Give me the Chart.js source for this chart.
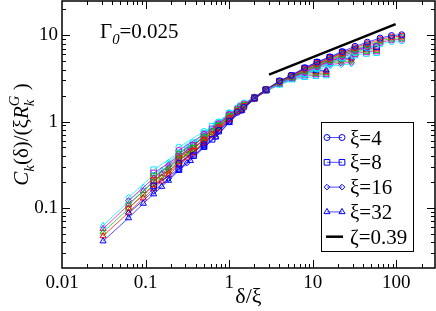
<!DOCTYPE html>
<html>
<head>
<meta charset="utf-8">
<script src="https://cdn.jsdelivr.net/npm/chart.js@4.4.0/dist/chart.umd.min.js"></script>
<style>
  html, body { margin: 0; padding: 0; background: #fff; }
  canvas { display: block; }
</style>
</head>
<body>
<canvas id="collapseChart" width="436" height="311"></canvas>
<script>
// delta/xi positions for each correlation length
const x4  = [0.25, 0.5, 0.75, 1, 1.25, 1.5, 2, 2.75, 4, 5.5, 8, 11.25, 16, 22.5, 32, 45, 64, 87.5, 116];
const x8  = [0.125, 0.25, 0.375, 0.5, 0.625, 0.75, 1, 1.375, 2, 2.75, 4, 5.625, 8, 11.25, 16, 22.6, 32, 43.75, 58];
const x16 = [0.0625, 0.125, 0.188, 0.25, 0.3125, 0.375, 0.5, 0.69, 1, 1.375, 2, 2.81, 4, 5.625, 8, 11.3, 16, 21.9, 29];
const x32 = [0.031, 0.0625, 0.094, 0.125, 0.156, 0.188, 0.25, 0.344, 0.5, 0.69, 1, 1.41, 2, 2.81, 4, 5.66, 8, 10.9, 14.5];

// C_k / (xi R_k^G), one array per k (colour) and xi
const blue4  = [0.328, 0.541, 0.792, 1.012, 1.278, 1.457, 1.89, 2.35, 2.96, 3.43, 4.21, 4.91, 5.62, 6.48, 7.45, 8.32, 9.29, 9.94, 10.15];
const red4   = [0.378, 0.607, 0.855, 1.093, 1.319, 1.504, 1.89, 2.35, 2.91, 3.37, 4.06, 4.73, 5.41, 6.24, 7.18, 8.01, 8.94, 9.57, 9.78];
const green4 = [0.42, 0.66, 0.90, 1.15, 1.36, 1.55, 1.9, 2.35, 2.85, 3.3, 3.9, 4.55, 5.2, 6.0, 6.9, 7.7, 8.6, 9.2, 9.4];
const mag4   = [0.462, 0.713, 0.945, 1.208, 1.401, 1.597, 1.91, 2.34, 2.79, 3.23, 3.74, 4.37, 4.99, 5.76, 6.62, 7.39, 8.26, 8.83, 9.02];
const cyan4  = [0.504, 0.766, 0.99, 1.265, 1.442, 1.643, 1.92, 2.33, 2.74, 3.17, 3.59, 4.19, 4.78, 5.52, 6.35, 7.08, 7.91, 8.46, 8.65];

const blue8  = [0.179, 0.281, 0.402, 0.517, 0.623, 0.774, 0.994, 1.354, 1.87, 2.33, 2.94, 3.41, 4.16, 4.86, 5.56, 6.37, 6.91, 7.24, 7.40];
const red8   = [0.207, 0.324, 0.451, 0.58, 0.699, 0.836, 1.074, 1.397, 1.87, 2.33, 2.89, 3.35, 4.0, 4.68, 5.36, 6.14, 6.66, 6.97, 7.12];
const green8 = [0.23, 0.36, 0.49, 0.63, 0.76, 0.88, 1.13, 1.44, 1.88, 2.33, 2.83, 3.28, 3.85, 4.5, 5.15, 5.9, 6.4, 6.7, 6.85];
const mag8   = [0.253, 0.396, 0.529, 0.68, 0.821, 0.924, 1.187, 1.483, 1.89, 2.32, 2.77, 3.21, 3.7, 4.32, 4.94, 5.66, 6.14, 6.43, 6.58];
const cyan8  = [0.276, 0.432, 0.568, 0.731, 0.882, 0.968, 1.243, 1.526, 1.9, 2.31, 2.72, 3.15, 3.54, 4.14, 4.74, 5.43, 5.89, 6.16, 6.3];

const blue16  = [0.086, 0.156, 0.218, 0.277, 0.332, 0.398, 0.508, 0.664, 0.986, 1.344, 1.85, 2.33, 2.91, 3.38, 4.10, 4.70, 5.13, 5.35, 5.45];
const red16   = [0.099, 0.18, 0.252, 0.32, 0.383, 0.446, 0.57, 0.745, 1.064, 1.387, 1.85, 2.33, 2.86, 3.32, 3.95, 4.52, 4.94, 5.15, 5.25];
const green16 = [0.11, 0.20, 0.28, 0.355, 0.425, 0.485, 0.62, 0.81, 1.12, 1.43, 1.86, 2.33, 2.8, 3.25, 3.8, 4.35, 4.75, 4.95, 5.05];
const mag16   = [0.121, 0.22, 0.308, 0.391, 0.468, 0.524, 0.67, 0.875, 1.176, 1.473, 1.87, 2.32, 2.74, 3.19, 3.65, 4.18, 4.56, 4.75, 4.85];
const cyan16  = [0.132, 0.24, 0.336, 0.426, 0.51, 0.563, 0.719, 0.94, 1.232, 1.516, 1.88, 2.31, 2.69, 3.12, 3.5, 4.0, 4.37, 4.55, 4.65];

const blue32  = [0.041, 0.076, 0.112, 0.144, 0.176, 0.207, 0.269, 0.351, 0.50, 0.656, 0.968, 1.335, 1.82, 2.31, 2.86, 3.28, 3.78, 3.89, 3.94];
const red32   = [0.047, 0.088, 0.129, 0.167, 0.203, 0.239, 0.311, 0.405, 0.561, 0.736, 1.045, 1.377, 1.83, 2.3, 2.81, 3.21, 3.64, 3.74, 3.8];
const green32 = [0.052, 0.098, 0.143, 0.185, 0.225, 0.265, 0.345, 0.45, 0.61, 0.80, 1.10, 1.42, 1.84, 2.3, 2.75, 3.15, 3.5, 3.6, 3.65];
const mag32   = [0.057, 0.108, 0.157, 0.204, 0.248, 0.292, 0.38, 0.495, 0.659, 0.864, 1.155, 1.463, 1.85, 2.29, 2.7, 3.09, 3.36, 3.46, 3.5];
const cyan32  = [0.062, 0.118, 0.172, 0.222, 0.27, 0.318, 0.414, 0.54, 0.708, 0.928, 1.21, 1.505, 1.86, 2.28, 2.64, 3.02, 3.22, 3.31, 3.36];

// power law guide, zeta = 0.39
const zetaX = [3, 98];
const zetaY = [3.5, 13.5];

const xTickValues = [0.01, 0.1, 1, 10, 100];
const xTickLabels = ['0.01', '0.1', '1', '10', '100'];
const yTickValues = [0.1, 1, 10];
const yTickLabels = ['0.1', '1', '10'];

const colors = { blue: '#0000ff', red: '#ff0000', green: '#00c000', mag: '#d000d0', cyan: '#00e8ff' };
const serif = 'Liberation Serif';

function makeSeries(xs, ys, color, style, radius) {
    return {
        data: xs.map((x, i) => ({ x: x, y: ys[i] })),
        showLine: true,
        borderColor: color,
        borderWidth: 0.7,
        pointStyle: style,
        pointRadius: radius,
        pointBorderWidth: 1,
        pointBorderColor: color,
        pointBackgroundColor: 'rgba(0,0,0,0)',
        fill: false
    };
}

const groups = [
    { xs: x4,  style: 'circle',   r: 3,   sets: [blue4, red4, green4, mag4, cyan4] },
    { xs: x8,  style: 'rect',     r: 4,   sets: [blue8, red8, green8, mag8, cyan8] },
    { xs: x16, style: 'rectRot',  r: 3,   sets: [blue16, red16, green16, mag16, cyan16] },
    { xs: x32, style: 'triangle', r: 3.5, sets: [blue32, red32, green32, mag32, cyan32] }
];
const colorOrder = [colors.blue, colors.red, colors.green, colors.mag, colors.cyan];

const datasets = [];
groups.forEach(g => {
    g.sets.forEach((ys, i) => datasets.push(makeSeries(g.xs, ys, colorOrder[i], g.style, g.r)));
});
datasets.unshift({
    data: zetaX.map((x, i) => ({ x: x, y: zetaY[i] })),
    showLine: true,
    borderColor: '#000',
    borderWidth: 2.5,
    pointRadius: 0,
    fill: false
});

// draw a run of text pieces (italic / sub / sup) starting at x, baseline y
function richWidth(ctx, parts, size) {
    let w = 0;
    parts.forEach(p => {
        ctx.font = (p.it ? 'italic ' : '') + (p.small ? size * 0.7 : size) + 'px ' + serif;
        if (p.adv !== false) w += ctx.measureText(p.t).width;
    });
    return w;
}
function drawRich(ctx, parts, x, y, size) {
    let cx = x;
    parts.forEach(p => {
        ctx.font = (p.it ? 'italic ' : '') + (p.small ? size * 0.7 : size) + 'px ' + serif;
        ctx.fillText(p.t, cx, y + (p.dy || 0) * size);
        if (p.adv !== false) cx += ctx.measureText(p.t).width;
    });
}

function marker(ctx, style, x, y, r) {
    ctx.beginPath();
    if (style === 'circle') {
        ctx.arc(x, y, r, 0, Math.PI * 2);
    } else if (style === 'rect') {
        const s = r * Math.SQRT1_2;
        ctx.rect(x - s, y - s, 2 * s, 2 * s);
    } else if (style === 'rectRot') {
        ctx.moveTo(x, y - r); ctx.lineTo(x + r, y); ctx.lineTo(x, y + r); ctx.lineTo(x - r, y); ctx.closePath();
    } else {
        ctx.moveTo(x, y - r); ctx.lineTo(x + r * 0.866, y + r * 0.5); ctx.lineTo(x - r * 0.866, y + r * 0.5); ctx.closePath();
    }
    ctx.stroke();
}

const framePlugin = {
    id: 'framePlugin',
    afterDraw(chart) {
        const ctx = chart.ctx;
        const a = chart.chartArea;
        const xs = chart.scales.x, ys = chart.scales.y;
        ctx.save();
        ctx.strokeStyle = '#000';
        ctx.lineWidth = 1;
        ctx.beginPath();
        for (let e = -2; e <= 2; e++) {
            for (let m = 1; m <= 9; m++) {
                const v = m * Math.pow(10, e);
                if (v <= xs.min || v >= xs.max) continue;
                const px = Math.round(xs.getPixelForValue(v)) + 0.5;
                const len = m === 1 ? 8 : 4;
                ctx.moveTo(px, a.bottom); ctx.lineTo(px, a.bottom - len);
                ctx.moveTo(px, a.top); ctx.lineTo(px, a.top + len);
            }
        }
        for (let e = -2; e <= 1; e++) {
            for (let m = 1; m <= 9; m++) {
                const v = m * Math.pow(10, e);
                if (v <= ys.min || v >= ys.max) continue;
                const py = Math.round(ys.getPixelForValue(v)) + 0.5;
                const len = m === 1 ? 8 : 4;
                ctx.moveTo(a.left, py); ctx.lineTo(a.left + len, py);
                ctx.moveTo(a.right, py); ctx.lineTo(a.right - len, py);
            }
        }
        ctx.stroke();
        ctx.lineWidth = 1.5;
        ctx.strokeRect(a.left, a.top, a.right - a.left, a.bottom - a.top);

        ctx.fillStyle = '#000';
        ctx.textBaseline = 'alphabetic';

        // annotation
        drawRich(ctx, [
            { t: 'Γ' },
            { t: '0', it: true, small: true, dy: 0.3 },
            { t: '=0.025' }
        ], 100, 38, 21);

        // x title
        ctx.font = '22px ' + serif;
        ctx.textAlign = 'center';
        ctx.fillText('δ/ξ', (a.left + a.right) / 2, 303);
        ctx.textAlign = 'left';

        // y title, rotated
        const yParts = [
            { t: 'C', it: true },
            { t: 'k', it: true, small: true, dy: 0.3 },
            { t: '(δ)/(ξ' },
            { t: 'R', it: true },
            { t: 'k', it: true, small: true, dy: 0.3, adv: false },
            { t: 'G', it: true, small: true, dy: -0.45 },
            { t: ' )' }
        ];
        ctx.save();
        ctx.translate(28, (a.top + a.bottom) / 2);
        ctx.rotate(-Math.PI / 2);
        const w = richWidth(ctx, yParts, 21);
        drawRich(ctx, yParts, -w / 2, 0, 21);
        ctx.restore();

        // legend
        const lx = 321, ly = 122, lw = 92, lh = 129;
        ctx.fillStyle = '#fff';
        ctx.fillRect(lx, ly, lw, lh);
        ctx.strokeStyle = '#000';
        ctx.lineWidth = 1;
        ctx.strokeRect(lx + 0.5, ly + 0.5, lw, lh);
        const entries = [
            { label: 'ξ=4',  style: 'circle',   r: 3 },
            { label: 'ξ=8',  style: 'rect',     r: 4 },
            { label: 'ξ=16', style: 'rectRot',  r: 2.8 },
            { label: 'ξ=32', style: 'triangle', r: 3.5 },
            { label: 'ζ=0.39', style: null }
        ];
        entries.forEach((en, i) => {
            const cy = 137.5 + i * 24.8;
            if (en.style) {
                ctx.strokeStyle = colors.blue;
                ctx.lineWidth = 0.7;
                ctx.beginPath(); ctx.moveTo(327, cy); ctx.lineTo(342, cy); ctx.stroke();
                ctx.lineWidth = 1;
                marker(ctx, en.style, 327, cy, en.r);
                marker(ctx, en.style, 342, cy, en.r);
            } else {
                ctx.strokeStyle = '#000';
                ctx.lineWidth = 2.5;
                ctx.beginPath(); ctx.moveTo(326, cy); ctx.lineTo(343, cy); ctx.stroke();
            }
            ctx.fillStyle = '#000';
            ctx.font = '21px ' + serif;
            ctx.fillText(en.label, 350, cy + 7);
        });
        ctx.restore();
    }
};

const tickFont = { family: serif, size: 19 };

// keep the plot box where it is in the original: no extra room for edge labels
function noEdgePadding(s) {
    s.paddingTop = 0;
    s.paddingBottom = 0;
    s.paddingLeft = 0;
    s.paddingRight = 0;
}

const ctx1 = document.getElementById('collapseChart').getContext('2d');
const collapseChart = new Chart(ctx1, {
    type: 'scatter',
    data: { datasets: datasets },
    options: {
        responsive: false,
        animation: false,
        devicePixelRatio: 1,
        layout: { autoPadding: false, padding: { top: 1, right: 1, left: 0, bottom: 0 } },
        plugins: { legend: { display: false }, tooltip: { enabled: false } },
        scales: {
            x: {
                type: 'logarithmic',
                min: 0.01,
                max: 290,
                grid: { display: false, drawTicks: false },
                border: { display: false },
                afterBuildTicks: s => { s.ticks = xTickValues.map(v => ({ value: v })); },
                afterFit: s => { s.height = 43; noEdgePadding(s); },
                ticks: {
                    autoSkip: false,
                    maxRotation: 0,
                    padding: 4,
                    color: '#000',
                    font: tickFont,
                    callback: (v, i) => xTickLabels[i]
                }
            },
            y: {
                type: 'logarithmic',
                min: 0.02,
                max: 25,
                grid: { display: false, drawTicks: false },
                border: { display: false },
                afterBuildTicks: s => { s.ticks = yTickValues.map(v => ({ value: v })); },
                afterFit: s => { s.width = 62; noEdgePadding(s); },
                ticks: {
                    autoSkip: false,
                    padding: 4,
                    color: '#000',
                    font: tickFont,
                    callback: (v, i) => yTickLabels[i]
                }
            }
        }
    },
    plugins: [framePlugin]
});
</script>
</body>
</html>
